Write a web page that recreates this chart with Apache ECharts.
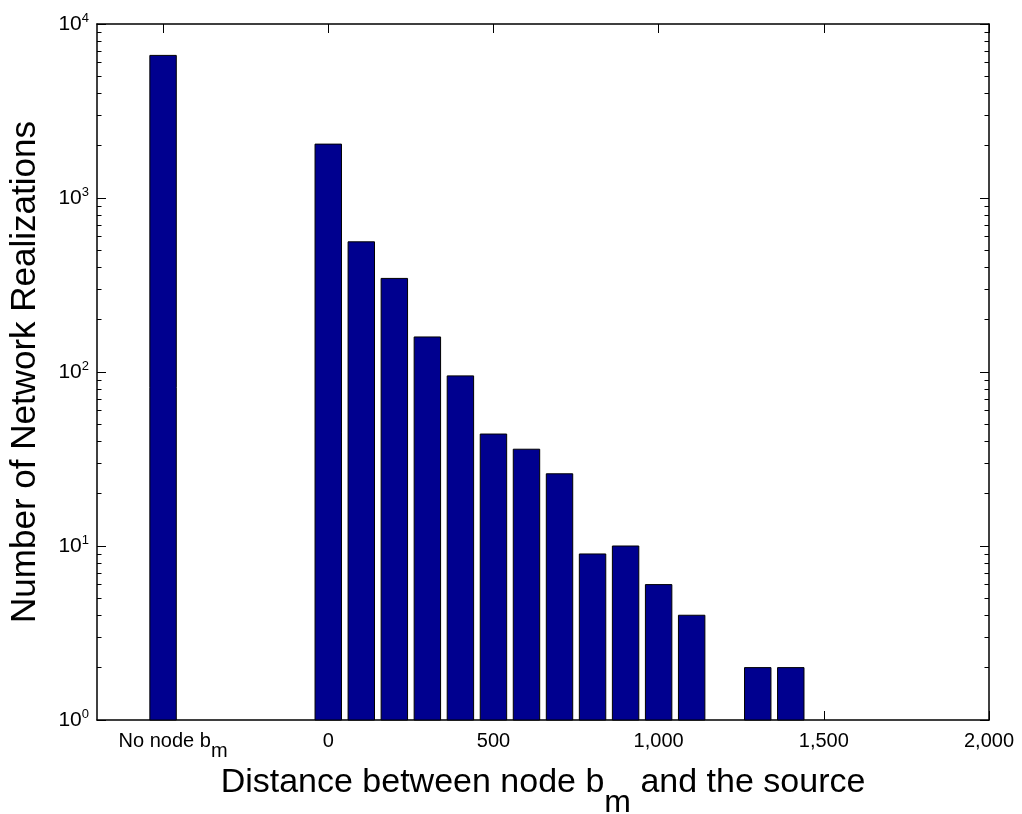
<!DOCTYPE html>
<html>
<head>
<meta charset="utf-8">
<script src="https://cdn.jsdelivr.net/npm/echarts@6/dist/echarts.min.js"></script>
<style>html,body{margin:0;padding:0;background:#fff}#c{width:1022px;height:814px}</style>
</head>
<body>
<div id="c"></div>
<script>
// Data
const binCenters = [0, 100, 200, 300, 400, 500, 600, 700, 800, 900, 1000, 1100, 1300, 1400];
const counts = [2040, 560, 345, 159, 95, 44, 36, 26, 9, 10, 6, 4, 2, 2];
const noNodePosition = -500;
const noNodeCount = 6600;
const xTickValues = [-500, 0, 500, 1000, 1500, 2000];
const xTickLabels = ['{nn|No node b}{sub|m}', '0', '500', '1,000', '1,500', '2,000'];
const yMajorTicks = [1, 10, 100, 1000, 10000];
const yMinorTicks = [];
for (let k = 0; k < 4; k++) for (let m = 2; m <= 9; m++) yMinorTicks.push(m * Math.pow(10, k));

const barFill = '#00008F';
const font = 'Liberation Sans, Arial, Helvetica, sans-serif';
const halfWidth = 40; // bar width 0.8 of bin width (100)

const chart = echarts.init(document.getElementById('c'));

function renderBar(params, api) {
  const x = api.value(0), y = api.value(1);
  const p1 = api.coord([x - halfWidth, y]);
  const p0 = api.coord([x + halfWidth, 1]);
  return {
    type: 'rect',
    shape: { x: p1[0], y: p1[1], width: p0[0] - p1[0], height: p0[1] - p1[1] },
    style: { fill: barFill, stroke: '#000', lineWidth: 1 }
  };
}

const barData = binCenters.map((c, i) => [c, counts[i]]);
barData.unshift([noNodePosition, noNodeCount]);

const lineStyle = { color: '#000', width: 1.5 };

function yAx(pos, ticks, len, labels, showLine) {
  return {
    type: 'log', logBase: 10, min: 1, max: 10000, position: pos, offset: 0,
    axisLine: { show: showLine, onZero: false, lineStyle: lineStyle },
    splitLine: { show: false },
    axisTick: { show: true, inside: true, length: len, customValues: ticks, lineStyle: { color: '#000', width: 1 } },
    axisLabel: labels ? {
      show: true, customValues: yMajorTicks, margin: 8,
      formatter: v => '10{sup|' + Math.round(Math.log10(v)) + '}',
      rich: {
        sup: { fontSize: 13, fontFamily: font, color: '#000', padding: [0, 0, 12, 0] }
      },
      fontSize: 21, fontFamily: font, color: '#000'
    } : { show: false },
    name: labels ? 'Number of Network Realizations' : '',
    nameLocation: 'middle', nameGap: 54,
    nameTextStyle: { fontSize: 35, fontFamily: font, color: '#000' }
  };
}

function xAx(pos, labels) {
  return {
    type: 'value', min: -700, max: 2000, position: pos,
    axisLine: { show: true, onZero: false, lineStyle: lineStyle },
    splitLine: { show: false },
    axisTick: { show: true, inside: true, length: 9, customValues: xTickValues, lineStyle: { color: '#000', width: 1 } },
    axisLabel: labels ? {
      show: true, customValues: xTickValues, margin: 11,
      formatter: v => xTickLabels[xTickValues.indexOf(v)],
      fontSize: 20, fontFamily: font, color: '#000',
      rich: {
        nn: { fontSize: 20, fontFamily: font, color: '#000', padding: [0, 0, 10, 20] },
        sub: { fontSize: 20, fontFamily: font, color: '#000', padding: [10, 0, 0, 0] }
      }
    } : { show: false },
    name: labels ? 'Distance between node b{sub|m} and the source' : '',
    nameLocation: 'middle', nameGap: 23,
    nameTextStyle: { fontSize: 34, fontFamily: font, color: '#000',
      rich: { sub: { fontSize: 32, fontFamily: font, color: '#000', padding: [40, 0, 0, 0] } } }
  };
}

chart.setOption({
  animation: false,
  backgroundColor: '#fff',
  grid: { left: 97, right: 33, top: 24, bottom: 94, containLabel: false, outerBoundsMode: 'none' },
  xAxis: [xAx('bottom', true), xAx('top', false)],
  yAxis: [
    yAx('left', yMajorTicks, 9, true, true),
    yAx('right', yMajorTicks, 9, false, true),
    yAx('left', yMinorTicks, 4.5, false, false),
    yAx('right', yMinorTicks, 4.5, false, false)
  ],
  series: [{
    type: 'custom',
    xAxisIndex: 0, yAxisIndex: 0,
    renderItem: renderBar,
    data: barData,
    encode: { x: 0, y: 1 }
  }]
});
</script>
</body>
</html>
